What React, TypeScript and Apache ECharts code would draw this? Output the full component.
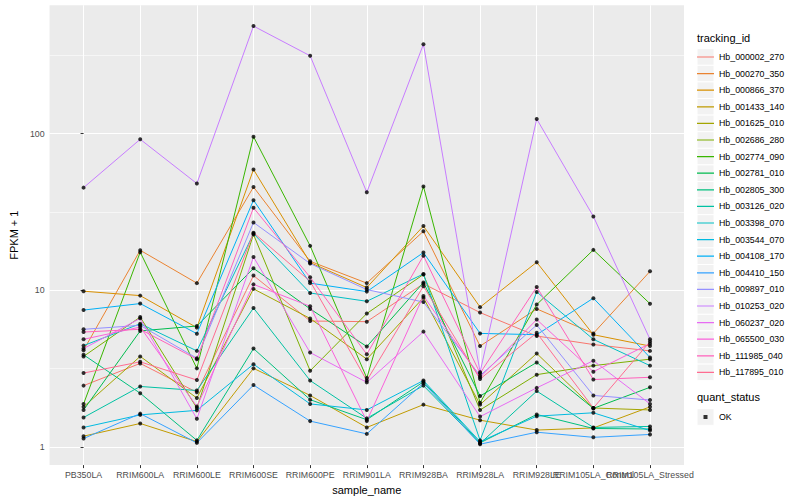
import React, { useEffect, useRef } from "react";
import * as echarts from "echarts";

// ---------- data ----------
const categories = [
  "PB350LA", "RRIM600LA", "RRIM600LE", "RRIM600SE", "RRIM600PE", "RRIM901LA",
  "RRIM928BA", "RRIM928LA", "RRIM928LE", "RRIM105LA_Control", "RRIM105LA_Stressed",
];

const trackingIds = [
  "Hb_000002_270", "Hb_000270_350", "Hb_000866_370", "Hb_001433_140", "Hb_001625_010",
  "Hb_002686_280", "Hb_002774_090", "Hb_002781_010", "Hb_002805_300", "Hb_003126_020",
  "Hb_003398_070", "Hb_003544_070", "Hb_004108_170", "Hb_004410_150", "Hb_009897_010",
  "Hb_010253_020", "Hb_060237_020", "Hb_065500_030", "Hb_111985_040", "Hb_117895_010",
];

const palette = [
  "#F8766D", "#EA8331", "#D89000", "#C09B00", "#A3A500", "#7CAE00", "#39B600", "#00BB4E",
  "#00BF7D", "#00C1A3", "#00BFC4", "#00BAE0", "#00B0F6", "#35A2FF", "#9590FF", "#C77CFF",
  "#E76BF3", "#FA62DB", "#FF62BC", "#FF6C91",
];

const hb000002_270 = [2.46, 3.41, 2.23, 12.4, 6.36, 6.3, 11.0, 7.2, 5.1, 4.5, 4.1];
const hb000270_350 = [4.14, 18.0, 11.1, 45.6, 15.3, 11.1, 23.8, 4.4, 7.6, 5.3, 13.2];
const hb000866_370 = [9.86, 9.24, 5.77, 59.0, 15.0, 10.4, 25.7, 7.8, 15.1, 5.2, 4.4];
const hb001433_140 = [1.17, 1.41, 1.08, 3.17, 2.13, 1.33, 1.86, 1.48, 1.28, 1.32, 1.8];
const hb001625_010 = [1.8, 3.78, 2.05, 10.2, 6.6, 3.63, 8.96, 1.86, 3.95, 1.77, 1.72];
const hb002686_280 = [3.78, 6.74, 1.77, 22.7, 3.06, 7.1, 12.6, 1.72, 2.89, 3.3, 3.63];
const hb002774_090 = [1.88, 17.5, 3.17, 95.6, 19.2, 2.75, 46.0, 1.91, 8.1, 18.1, 8.2];
const hb002781_010 = [1.72, 5.5, 5.91, 13.8, 7.6, 4.37, 11.2, 2.11, 3.46, 1.76, 2.4];
const hb002805_300 = [3.87, 2.2, 1.1, 4.24, 2.0, 1.49, 2.6, 1.06, 1.61, 1.31, 1.3];
const hb003126_020 = [1.54, 2.43, 2.29, 7.7, 2.65, 1.52, 2.46, 1.05, 2.27, 1.33, 1.35];
const hb003398_070 = [4.43, 6.11, 4.1, 23.0, 9.6, 8.5, 12.7, 1.1, 9.75, 4.86, 3.3];
const hb003544_070 = [1.33, 1.6, 1.71, 3.37, 1.88, 1.72, 2.65, 1.08, 1.57, 1.65, 1.27];
const hb004108_170 = [7.47, 8.22, 5.28, 37.6, 11.1, 9.8, 17.4, 5.3, 5.2, 8.9, 3.72];
const hb004410_150 = [1.13, 1.63, 1.06, 2.48, 1.46, 1.21, 2.55, 1.04, 1.24, 1.15, 1.2];
const hb009897_010 = [5.63, 5.97, 3.68, 27.1, 14.8, 10.1, 8.4, 2.85, 6.0, 2.13, 1.99];
const hb010253_020 = [45.2, 92.0, 48.0, 486.0, 314.0, 42.2, 372.0, 3.0, 124.0, 29.6, 4.86];
const hb060237_020 = [4.24, 6.61, 1.51, 16.3, 4.0, 2.58, 5.44, 1.56, 2.38, 3.55, 1.88];
const hb065500_030 = [4.86, 5.82, 1.81, 10.9, 7.9, 1.46, 9.2, 2.78, 6.5, 3.02, 4.56];
const hb111985_040 = [5.41, 5.63, 3.63, 33.6, 12.1, 3.9, 16.6, 2.95, 10.5, 2.69, 2.78];
const hb117895_010 = [2.96, 3.49, 2.67, 23.3, 11.4, 2.65, 10.6, 2.71, 5.35, 1.77, 4.7];

const seriesValues = [
  hb000002_270, hb000270_350, hb000866_370, hb001433_140, hb001625_010,
  hb002686_280, hb002774_090, hb002781_010, hb002805_300, hb003126_020,
  hb003398_070, hb003544_070, hb004108_170, hb004410_150, hb009897_010,
  hb010253_020, hb060237_020, hb065500_030, hb111985_040, hb117895_010,
];

const yMajorTicks = [1, 10, 100];
const yMinorTicks = [3.1623, 31.623, 316.23];
const quantStatus = ["OK"];

// ---------- layout ----------
const FONT = "'Liberation Sans', Arial, Helvetica, sans-serif";
const Y_MIN = 0.7646;
const Y_MAX = 660.7;
const KEY_X = 697;
const KEY_W = 17;
const KEY_H = 16.6;
const KEY_TOP = 48.7;
const OK_TOP = 408.7;

const lineIcon =
  "path://M0,0L17,0L17,0.01L0,0.01Z M0,7.7L17,7.7L17,8.9L0,8.9Z M0,16.59L17,16.59L17,16.6L0,16.6Z";
const dotIcon =
  "path://M0,0L17,0L17,0.01L0,0.01Z M6.5,6.3L10.5,6.3L10.5,10.3L6.5,10.3Z M0,16.59L17,16.59L17,16.6L0,16.6Z";

export default function App() {
  const ref = useRef<HTMLDivElement>(null);

  useEffect(() => {
    document.body.style.margin = "0";
    const chart = echarts.init(ref.current!, undefined, { renderer: "svg", width: 800, height: 500 });

    const catIdx = categories.map((_, i) => i);
    // labels split over two axes so that overlapping neighbours are all kept
    const labelIdxA = catIdx.filter((i) => i % 2 === 0);
    const labelIdxB = catIdx.filter((i) => i % 2 === 1);

    const lineSeries = trackingIds.map((id, k) => {
      const s: any = {
        type: "line",
        name: id,
        data: seriesValues[k].map((v, i) => [i, v]),
        symbol: "none",
        showSymbol: false,
        itemStyle: { color: palette[k] },
        lineStyle: { color: palette[k], width: 1 },
        emphasis: { disabled: true },
        silent: true,
        z: 2,
      };
      if (k === 0) {
        s.markLine = {
          silent: true,
          z: 1,
          symbol: "none",
          label: { show: false },
          emphasis: { disabled: true },
          lineStyle: { color: "#FFFFFF", width: 0.55, type: "solid", opacity: 1 },
          data: yMinorTicks.map((v) => ({ yAxis: v })),
        };
      }
      return s;
    });

    const pointData = seriesValues.flatMap((vals) => vals.map((v, i) => [i, v]));

    const keyRects = [
      ...trackingIds.map((_, i) => ({
        type: "rect",
        silent: true,
        shape: { x: KEY_X, y: KEY_TOP + i * KEY_H, width: KEY_W, height: KEY_H },
        style: { fill: "#F2F2F2", stroke: "#FFFFFF", lineWidth: 1 },
      })),
      {
        type: "rect",
        silent: true,
        shape: { x: KEY_X, y: OK_TOP, width: KEY_W, height: KEY_H },
        style: { fill: "#F2F2F2", stroke: "#FFFFFF", lineWidth: 1 },
      },
    ];

    const labelStyle = {
      formatter: (v: number) => categories[Math.round(v)] ?? "",
      color: "#4D4D4D",
      fontSize: 8.8,
      margin: 5,
      showMinLabel: true,
      showMaxLabel: true,
      hideOverlap: false,
      fontFamily: FONT,
    };

    const option: any = {
      animation: false,
      backgroundColor: "#FFFFFF",
      textStyle: { fontFamily: FONT },
      title: [
        {
          text: "tracking_id",
          left: KEY_X,
          top: 32,
          padding: 0,
          textStyle: { fontSize: 11, fontWeight: "normal", color: "#000000", fontFamily: FONT },
        },
        {
          text: "quant_status",
          left: KEY_X,
          top: 391.5,
          padding: 0,
          textStyle: { fontSize: 11, fontWeight: "normal", color: "#000000", fontFamily: FONT },
        },
      ],
      grid: {
        left: 40,
        right: 116,
        top: 5.2,
        bottom: 31.6,
        show: true,
        backgroundColor: "#EBEBEB",
        borderWidth: 0,
      },
      legend: [
        {
          orient: "vertical",
          left: KEY_X,
          top: KEY_TOP,
          padding: 0,
          itemGap: 0,
          itemWidth: KEY_W,
          itemHeight: KEY_H,
          icon: lineIcon,
          selectedMode: false,
          itemStyle: { borderWidth: 0 },
          data: trackingIds,
          textStyle: { fontSize: 8.8, color: "#000000", fontFamily: FONT },
        },
        {
          orient: "vertical",
          left: KEY_X,
          top: OK_TOP,
          padding: 0,
          itemGap: 0,
          itemWidth: KEY_W,
          itemHeight: KEY_H,
          icon: dotIcon,
          selectedMode: false,
          itemStyle: { borderWidth: 0 },
          data: quantStatus,
          textStyle: { fontSize: 8.8, color: "#000000", fontFamily: FONT },
        },
      ],
      xAxis: [
        {
          type: "value",
          min: -0.6,
          max: 10.6,
          position: "bottom",
          axisLine: { show: false },
          axisTick: {
            show: true,
            length: 3,
            lineStyle: { color: "#333333", width: 1 },
            customValues: catIdx,
          },
          axisLabel: { ...labelStyle, customValues: labelIdxA },
          splitLine: { show: true, lineStyle: { color: "#FFFFFF", width: 1.07 } },
          name: "sample_name",
          nameLocation: "middle",
          nameGap: 15.5,
          nameTextStyle: { color: "#000000", fontSize: 11, fontFamily: FONT },
        },
        {
          type: "value",
          min: -0.6,
          max: 10.6,
          position: "bottom",
          offset: 0,
          axisLine: { show: false },
          axisTick: { show: false, customValues: labelIdxB },
          axisLabel: { ...labelStyle, customValues: labelIdxB },
          splitLine: { show: false },
        },
      ],
      yAxis: {
        type: "log",
        logBase: 10,
        min: Y_MIN,
        max: Y_MAX,
        position: "left",
        axisLine: { show: false },
        axisTick: {
          show: true,
          length: 3,
          lineStyle: { color: "#333333", width: 1 },
          customValues: yMajorTicks,
        },
        axisLabel: {
          customValues: yMajorTicks,
          color: "#4D4D4D",
          fontSize: 8.8,
          margin: 5,
          fontFamily: FONT,
        },
        splitLine: { show: true, lineStyle: { color: "#FFFFFF", width: 1.07 } },
        minorTick: { show: false },
        minorSplitLine: { show: false },
        name: "FPKM + 1",
        nameLocation: "middle",
        nameRotate: 90,
        nameGap: 21.5,
        nameTextStyle: { color: "#000000", fontSize: 11, fontFamily: FONT },
      },
      graphic: keyRects,
      series: [
        ...lineSeries,
        {
          type: "scatter",
          name: "OK",
          data: pointData,
          symbol: "circle",
          symbolSize: 4,
          itemStyle: { color: "#000000" },
          silent: true,
          z: 3,
        },
      ],
    };

    chart.setOption(option);
    return () => chart.dispose();
  }, []);

  return (
    <div
      ref={ref}
      style={{ position: "fixed", left: 0, top: 0, width: 800, height: 500 }}
    />
  );
}
